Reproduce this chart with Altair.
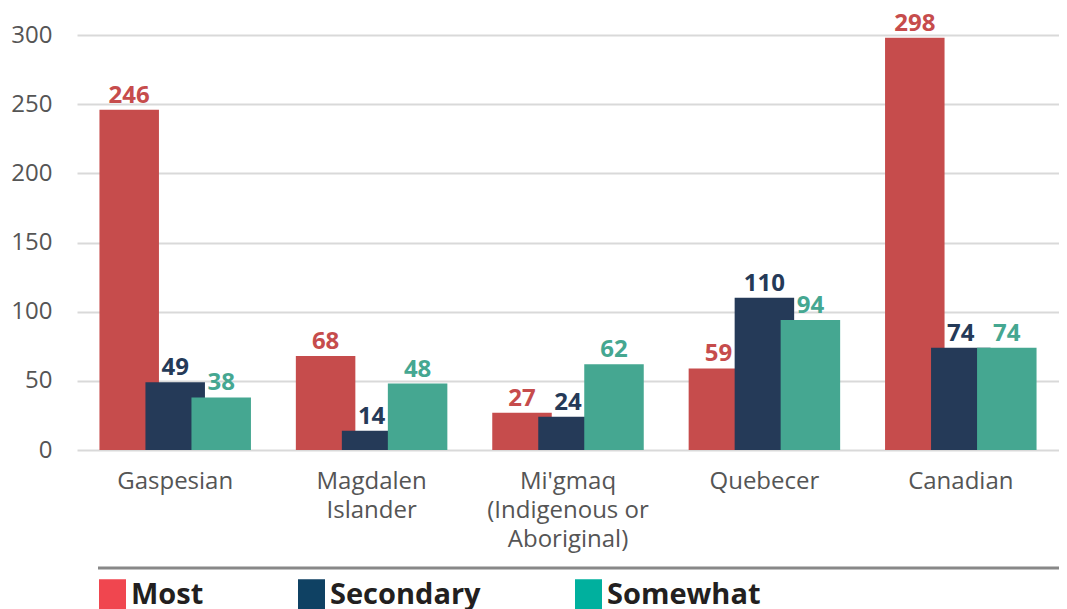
import altair as alt
import pandas as pd

categories = ["Gaspesian", "Magdalen\nIslander", "Mi'gmaq\n(Indigenous or\nAboriginal)", "Quebecer", "Canadian"]
series = ["Most", "Secondary", "Somewhat"]
most = [246, 68, 27, 59, 298]
secondary = [49, 14, 24, 110, 74]
somewhat = [38, 48, 62, 94, 74]

bar_colors = ["#c64c4c", "#253a58", "#45a791"]
legend_colors = ["#f0464f", "#0f4163", "#00b09e"]
offsets = [-46, 0, 46]

rows = []
for s, vals in zip(series, [most, secondary, somewhat]):
    for c, v in zip(categories, vals):
        rows.append({"category": c, "series": s, "value": v})
df = pd.DataFrame(rows)

FONT = "Open Sans"

x_enc = alt.X(
    "category:N",
    sort=categories,
    scale=alt.Scale(paddingInner=0, paddingOuter=0),
    axis=alt.Axis(
        title=None, ticks=False, domain=False, labelAngle=0,
        labelExpr="split(datum.label, '\\n')",
        labelFont=FONT, labelFontSize=24, labelColor="#555555",
        labelPadding=19, labelLineHeight=29, labelLimit=400,
    ),
)
y_enc = alt.Y(
    "value:Q",
    scale=alt.Scale(domain=[0, 300], nice=False),
    axis=alt.Axis(
        title=None, values=[0, 50, 100, 150, 200, 250, 300], ticks=False, domain=False,
        labelFont=FONT, labelFontSize=24, labelColor="#555555", labelPadding=25,
        gridColor="#d9d9d9", gridWidth=2,
    ),
)

base = alt.Chart(df)

rule = base.mark_rule(color="#888888", strokeWidth=3).encode(
    x=alt.value(21), x2=alt.value(982), y=alt.value(533)
).transform_filter(alt.datum.series == "Most").transform_filter(alt.datum.category == "Gaspesian")

layers = [rule]
for s, col, off in zip(series, bar_colors, offsets):
    layers.append(
        base.transform_filter(alt.datum.series == s)
        .mark_bar(width=59.5, xOffset=off, color=col)
        .encode(x=x_enc, y=y_enc)
    )
for s, col, off in zip(series, bar_colors, offsets):
    layers.append(
        base.transform_filter(alt.datum.series == s)
        .mark_text(xOffset=off, dy=-7, baseline="alphabetic", align="center",
                   font=FONT, fontSize=24, fontWeight="bold", color=col)
        .encode(x=x_enc, y=y_enc, text="value:Q")
    )

legend_layer = base.mark_square(opacity=0).encode(
    x=x_enc, y=y_enc,
    color=alt.Color(
        "series:N",
        scale=alt.Scale(domain=series, range=legend_colors),
        legend=alt.Legend(
            title=None, orient="none", direction="horizontal",
            legendX=21, legendY=545.5, padding=0,
            symbolType="M-1,-1.19H1V2H-1Z", symbolSize=729, symbolOpacity=1,
            symbolStrokeWidth=0,
            labelFont=FONT, labelFontSize=29, labelFontWeight="bold", labelColor="#231f20",
            labelOffset=4, columnPadding=93, labelLimit=400,
        ),
    ),
)
layers.append(legend_layer)

chart = alt.layer(*layers).properties(
    width=982, height=415,
    padding={"left": 69, "top": 27, "right": 0, "bottom": 159},
    autosize=alt.AutoSizeParams(type="none"),
).configure_view(stroke=None)

chart.save("out.html", embed_options={"renderer": "svg", "actions": False})
